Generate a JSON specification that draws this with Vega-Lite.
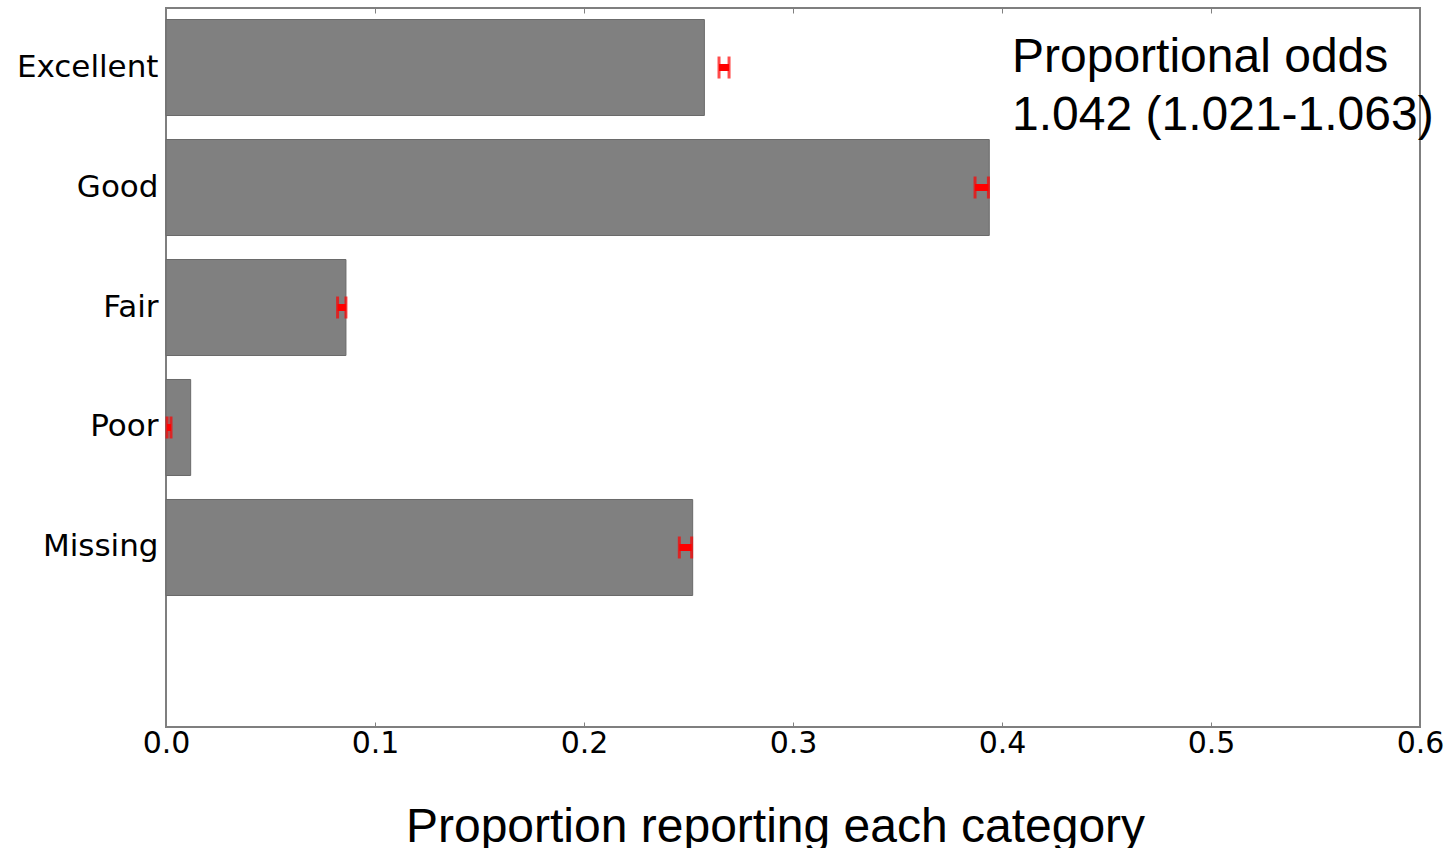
{
  "$schema": "https://vega.github.io/schema/vega-lite/v6.json",
  "width": 1254,
  "height": 719,
  "autosize": {"type": "none"},
  "padding": {"left": 166, "top": 8, "right": 28, "bottom": 121},
  "background": "white",
  "config": {
    "view": {"stroke": "#7f7f7f", "strokeWidth": 2}
  },
  "data": {
    "values": [
      {"category": "Excellent", "proportion": 0.2576, "lo": 0.2646, "hi": 0.2694},
      {"category": "Good", "proportion": 0.3939, "lo": 0.3871, "hi": 0.3935},
      {"category": "Fair", "proportion": 0.0861, "lo": 0.0821, "hi": 0.0861},
      {"category": "Poor", "proportion": 0.0118, "lo": 0.0005, "hi": 0.0024},
      {"category": "Missing", "proportion": 0.2520, "lo": 0.2456, "hi": 0.2515}
    ]
  },
  "resolve": {"axis": {"x": "independent"}},
  "layer": [
    {
      "mark": {"type": "bar", "fill": "#808080", "stroke": "#6a6a6a", "strokeWidth": 1},
      "encoding": {
        "y": {
          "field": "category", "type": "nominal",
          "scale": {"domain": ["Excellent", "Good", "Fair", "Poor", "Missing", " "], "paddingInner": 0.2, "paddingOuter": 0.096},
          "axis": {"title": null, "ticks": false, "domain": false, "labelFont": "DejaVu Sans", "labelFontSize": 31, "labelColor": "black", "labelPadding": 8}
        },
        "x": {
          "field": "proportion", "type": "quantitative",
          "scale": {"domain": [0, 0.6], "nice": false, "zero": true},
          "axis": {
            "orient": "bottom", "values": [0, 0.1, 0.2, 0.3, 0.4, 0.5, 0.6], "format": ".1f",
            "grid": false, "domain": false, "ticks": true, "tickSize": -5, "tickColor": "#808080",
            "labelFont": "DejaVu Sans", "labelFontSize": 30, "labelColor": "black", "labelPadding": 6, "labelFlush": false,
            "title": "Proportion reporting each category", "titleFont": "Liberation Sans", "titleFontSize": 48, "titleFontWeight": "normal", "titleColor": "black",
            "titleX": 609, "titleY": 114, "titleBaseline": "alphabetic", "titleAlign": "center", "titleAnchor": null
          }
        }
      }
    },
    {
      "mark": {"type": "rule", "color": "red", "strokeWidth": 7},
      "encoding": {
        "y": {"field": "category", "type": "nominal"},
        "x": {
          "field": "lo", "type": "quantitative",
          "axis": {"orient": "top", "values": [0, 0.1, 0.2, 0.3, 0.4, 0.5, 0.6], "labels": false, "grid": false, "domain": false, "ticks": true, "tickSize": -5, "tickColor": "#808080", "title": null}
        },
        "x2": {"field": "hi"}
      }
    },
    {
      "mark": {"type": "tick", "color": "red", "size": 22, "thickness": 3, "orient": "vertical"},
      "encoding": {
        "y": {"field": "category", "type": "nominal"},
        "x": {"field": "lo", "type": "quantitative", "axis": null}
      }
    },
    {
      "mark": {"type": "tick", "color": "red", "size": 22, "thickness": 3, "orient": "vertical"},
      "encoding": {
        "y": {"field": "category", "type": "nominal"},
        "x": {"field": "hi", "type": "quantitative", "axis": null}
      }
    },
    {
      "data": {"values": [{"note": "Proportional odds\n1.042 (1.021-1.063)"}]},
      "mark": {"type": "text", "font": "Liberation Sans", "fontSize": 48, "color": "black", "align": "left", "baseline": "alphabetic", "lineBreak": "\n", "lineHeight": 58, "dy": 4, "clip": false},
      "encoding": {
        "x": {"datum": 0.4048, "type": "quantitative", "axis": null},
        "y": {"datum": "Excellent", "type": "nominal"},
        "text": {"field": "note", "type": "nominal"}
      }
    }
  ]
}
